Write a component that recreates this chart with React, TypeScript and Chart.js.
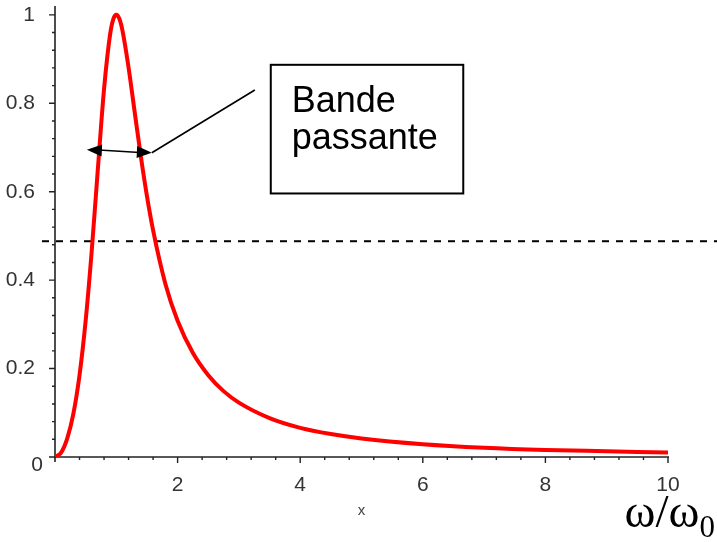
import React, { useEffect, useRef } from "react";
import { Chart, registerables } from "chart.js";

Chart.register(...registerables);

// ω/ω0 values
const omegaRatio = [
  0, 0.1, 0.2, 0.3, 0.4, 0.5, 0.6, 0.7, 0.8, 0.9, 0.95, 1.0, 1.05, 1.1, 1.2, 1.3,
  1.4, 1.5, 1.6, 1.8, 2.0, 2.25, 2.5, 2.75, 3, 3.5, 4, 4.5, 5, 6, 7, 8, 9, 10,
];
// normalised response
const response = [
  0, 0.01, 0.042, 0.098, 0.185, 0.308, 0.468, 0.653, 0.832, 0.957, 0.99, 1.0, 0.991,
  0.965, 0.881, 0.78, 0.68, 0.59, 0.513, 0.392, 0.308, 0.235, 0.185, 0.149, 0.123,
  0.088, 0.066, 0.052, 0.042, 0.029, 0.021, 0.016, 0.013, 0.01,
];

const yTickValues = [0, 0.2, 0.4, 0.6, 0.8, 1];
const xTickValues = [2, 4, 6, 8, 10];
const halfPowerLevel = 0.488;

const boxLines = ["Bande", "passante"];
const xAxisTitle = "x";
const unitMain = "ω/ω";
const unitSub = "0";

const tickFont = "'Liberation Sans', Arial, sans-serif";

export default function App() {
  const canvasRef = useRef<HTMLCanvasElement | null>(null);

  useEffect(() => {
    const canvas = canvasRef.current;
    if (!canvas) return;

    const axesPlugin = {
      id: "mapleAxes",
      beforeDatasetsDraw(chart: any) {
        const { ctx, chartArea, scales } = chart;
        const xs = scales.x;
        const ys = scales.y;
        const y0 = ys.getPixelForValue(0);
        const x0 = xs.getPixelForValue(0);
        ctx.save();
        ctx.strokeStyle = "#222";
        ctx.lineWidth = 1.6;
        // axis lines
        ctx.beginPath();
        ctx.moveTo(x0 - 6, y0);
        ctx.lineTo(xs.getPixelForValue(10) + 1, y0);
        ctx.moveTo(x0, chartArea.top);
        ctx.lineTo(x0, y0 + 5);
        ctx.stroke();
        // x ticks
        ctx.lineWidth = 1.4;
        ctx.beginPath();
        for (let i = 1; i <= 25; i++) {
          const v = i * 0.4;
          const px = xs.getPixelForValue(v);
          const major = Math.abs(v / 2 - Math.round(v / 2)) < 1e-6;
          ctx.moveTo(px, y0);
          ctx.lineTo(px, y0 + (major ? 6 : 3));
        }
        // y ticks
        for (let i = 1; i <= 25; i++) {
          const v = i * 0.04;
          const py = ys.getPixelForValue(v);
          const major = Math.abs(v / 0.2 - Math.round(v / 0.2)) < 1e-6;
          ctx.moveTo(x0, py);
          ctx.lineTo(x0 - (major ? 6 : 3), py);
        }
        ctx.stroke();

        // dashed half-power line
        const yh = ys.getPixelForValue(halfPowerLevel);
        ctx.strokeStyle = "#000";
        ctx.lineWidth = 2;
        ctx.setLineDash([7, 7]);
        ctx.beginPath();
        ctx.moveTo(x0 - 13, yh);
        ctx.lineTo(chart.width, yh);
        ctx.stroke();
        ctx.setLineDash([]);

        // "0" label (placed just below the origin, as in the original)
        ctx.fillStyle = "#333";
        ctx.font = `21px ${tickFont}`;
        ctx.textAlign = "right";
        ctx.textBaseline = "middle";
        ctx.fillText("0", x0 - 12, y0 + 8);
        ctx.restore();
      },
      afterDatasetsDraw(chart: any) {
        const { ctx, scales, chartArea } = chart;
        const xs = scales.x;
        const ys = scales.y;
        const px = (v: number) => xs.getPixelForValue(v);
        const py = (v: number) => ys.getPixelForValue(v);
        ctx.save();

        // double arrow (bandwidth)
        const ax1 = px(0.52), ay1 = py(0.695);
        const ax2 = px(1.58), ay2 = py(0.688);
        ctx.strokeStyle = "#000";
        ctx.fillStyle = "#000";
        ctx.lineWidth = 1.6;
        ctx.beginPath();
        ctx.moveTo(ax1 + 8, ay1);
        ctx.lineTo(ax2 - 8, ay2);
        ctx.stroke();
        const head = (tx: number, ty: number, fx: number, fy: number) => {
          const ang = Math.atan2(ty - fy, tx - fx);
          const L = 15, W = 6;
          ctx.beginPath();
          ctx.moveTo(tx, ty);
          ctx.lineTo(tx - L * Math.cos(ang) + W * Math.sin(ang), ty - L * Math.sin(ang) - W * Math.cos(ang));
          ctx.lineTo(tx - L * Math.cos(ang) - W * Math.sin(ang), ty - L * Math.sin(ang) + W * Math.cos(ang));
          ctx.closePath();
          ctx.fill();
        };
        head(ax1, ay1, ax2, ay2);
        head(ax2, ay2, ax1, ay1);

        // pointer line
        ctx.beginPath();
        ctx.moveTo(px(3.26), py(0.83));
        ctx.lineTo(ax2, ay2);
        ctx.stroke();

        // text box
        const bx1 = px(3.52), by1 = py(0.887);
        const bx2 = px(6.66), by2 = py(0.596);
        ctx.lineWidth = 2;
        ctx.fillStyle = "#fff";
        ctx.fillRect(bx1, by1, bx2 - bx1, by2 - by1);
        ctx.strokeRect(bx1, by1, bx2 - bx1, by2 - by1);
        ctx.fillStyle = "#000";
        ctx.font = `36px ${tickFont}`;
        ctx.textAlign = "left";
        ctx.textBaseline = "alphabetic";
        ctx.fillText(boxLines[0], bx1 + 21, by1 + 47);
        ctx.fillText(boxLines[1], bx1 + 21, by1 + 84);

        // axis title "x"
        ctx.fillStyle = "#444";
        ctx.font = `15px ${tickFont}`;
        ctx.textAlign = "center";
        ctx.textBaseline = "alphabetic";
        ctx.fillText(xAxisTitle, (chartArea.left + chartArea.right) / 2, 515);

        // unit label ω/ω0
        ctx.fillStyle = "#000";
        const serif = "'Liberation Serif', 'Times New Roman', serif";
        ctx.font = `47px ${serif}`;
        const wMain = ctx.measureText(unitMain).width;
        ctx.font = `31px ${serif}`;
        const wSub = ctx.measureText(unitSub).width;
        const right = chart.width - 2;
        const start = right - wSub - wMain;
        ctx.textAlign = "left";
        ctx.font = `47px ${serif}`;
        ctx.fillText(unitMain, start, 527);
        ctx.font = `31px ${serif}`;
        ctx.fillText(unitSub, start + wMain, 537);
        ctx.restore();
      },
    };

    const chart = new Chart(canvas, {
      type: "line",
      data: {
        datasets: [
          {
            data: omegaRatio.map((x, i) => ({ x, y: response[i] })),
            borderColor: "#ff0000",
            borderWidth: 4,
            pointRadius: 0,
            fill: false,
            cubicInterpolationMode: "monotone",
            borderJoinStyle: "round",
          },
        ],
      },
      options: {
        animation: false,
        responsive: true,
        maintainAspectRatio: false,
        layout: { padding: { top: 6, right: 49, left: 0, bottom: 0 } },
        plugins: {
          legend: { display: false },
          tooltip: { enabled: false },
        },
        scales: {
          x: {
            type: "linear",
            min: 0,
            max: 10,
            grid: { display: false },
            border: { display: false },
            afterBuildTicks: (s: any) => {
              s.ticks = xTickValues.map((v) => ({ value: v }));
            },
            afterFit: (s: any) => {
              s.height = 85;
              s.paddingLeft = 0;
              s.paddingRight = 0;
            },
            ticks: {
              padding: 8,
              maxRotation: 0,
              autoSkip: false,
              color: "#333",
              font: { family: tickFont, size: 21 },
              callback: (v: any) => String(v),
            },
          },
          y: {
            type: "linear",
            min: 0,
            max: 1.02,
            grid: { display: false },
            border: { display: false },
            afterBuildTicks: (s: any) => {
              s.ticks = yTickValues.filter((v) => v !== 0).map((v) => ({ value: v }));
            },
            afterFit: (s: any) => {
              s.width = 55;
              s.paddingTop = 0;
              s.paddingBottom = 0;
            },
            ticks: {
              padding: 12,
              autoSkip: false,
              color: "#333",
              font: { family: tickFont, size: 21 },
              callback: (v: any) => String(v),
            },
          },
        },
      },
      plugins: [axesPlugin],
    } as any);

    return () => chart.destroy();
  }, []);

  return (
    <div
      style={{
        position: "fixed",
        left: 0,
        top: 0,
        width: 717,
        height: 542,
        background: "#fff",
      }}
    >
      <canvas ref={canvasRef} />
    </div>
  );
}
